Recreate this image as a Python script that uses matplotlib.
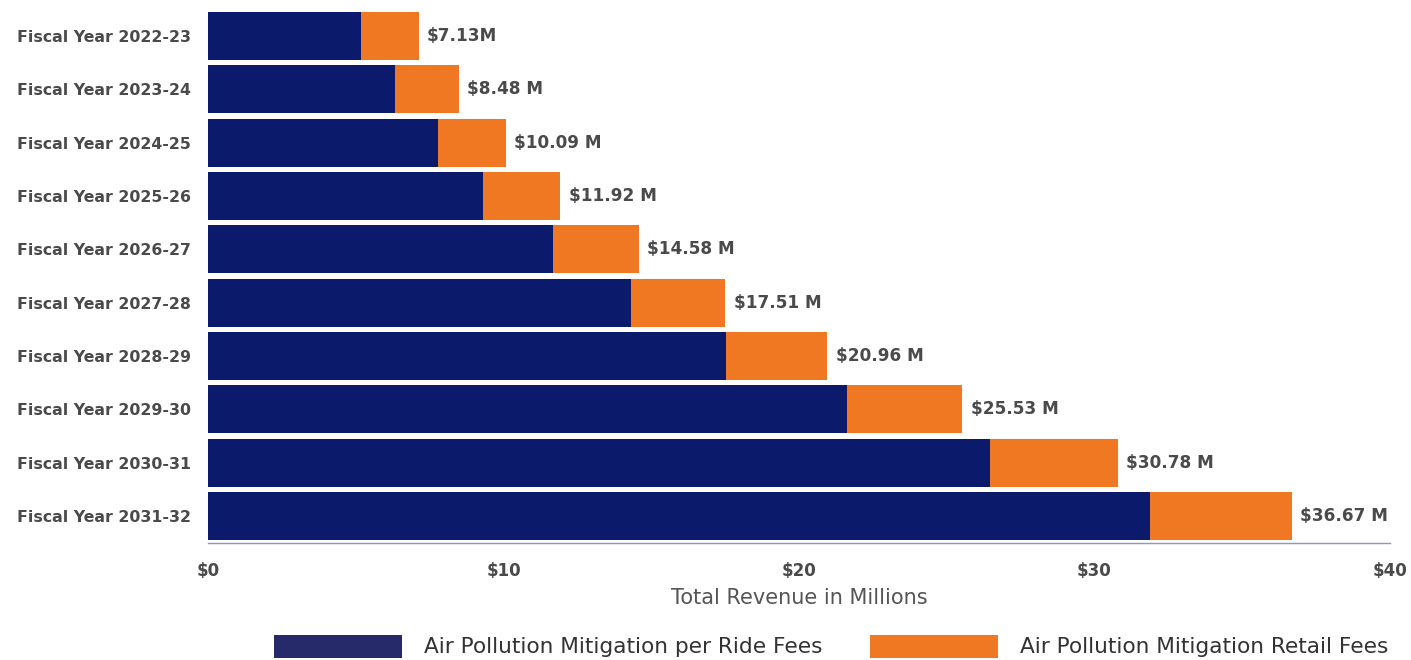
import matplotlib
matplotlib.use("Agg")
import matplotlib.pyplot as plt
from matplotlib.patches import Rectangle

categories = ["Fiscal Year 2022-23", "Fiscal Year 2023-24", "Fiscal Year 2024-25",
              "Fiscal Year 2025-26", "Fiscal Year 2026-27", "Fiscal Year 2027-28",
              "Fiscal Year 2028-29", "Fiscal Year 2029-30", "Fiscal Year 2030-31",
              "Fiscal Year 2031-32"]
per_ride_fees = [5.18, 6.33, 7.78, 9.31, 11.68, 14.31, 17.53, 21.62, 26.46, 31.88]
totals = [7.13, 8.48, 10.09, 11.92, 14.58, 17.51, 20.96, 25.53, 30.78, 36.67]
retail_fees = [t - p for t, p in zip(totals, per_ride_fees)]
value_labels = ["$7.13M", "$8.48 M", "$10.09 M", "$11.92 M", "$14.58 M",
                "$17.51 M", "$20.96 M", "$25.53 M", "$30.78 M", "$36.67 M"]
x_ticks = [0, 10, 20, 30, 40]
x_tick_labels = ["$0", "$10", "$20", "$30", "$40"]
series_names = ["Air Pollution Mitigation per Ride Fees", "Air Pollution Mitigation Retail Fees"]

NAVY = "#0c1a6c"
ORANGE = "#f07822"
LEG_NAVY = "#262a6a"
GRAY = "#4a4a4a"

fig = plt.figure(figsize=(14.11, 6.60), dpi=100)
ax = fig.add_axes([208 / 1411, 1 - 542.7 / 660, (1390 - 208) / 1411, (542.7 - 9.35) / 660])

y = list(range(len(categories)))
ax.barh(y, per_ride_fees, height=0.9, color=NAVY, linewidth=0)
ax.barh(y, retail_fees, left=per_ride_fees, height=0.9, color=ORANGE, linewidth=0)

for yi, t, lab in zip(y, totals, value_labels):
    ax.annotate(lab, xy=(t, yi), xytext=(6, 0), textcoords="offset points",
                ha="left", va="center", fontsize=12.2, fontweight="bold", color=GRAY)

ax.set_xlim(0, 40)
ax.set_ylim(len(categories) - 0.5, -0.5)
ax.set_yticks(y)
ax.set_yticklabels(categories, fontsize=11.3, fontweight="bold", color=GRAY)
ax.set_xticks(x_ticks)
ax.set_xticklabels(x_tick_labels, fontsize=12, fontweight="bold", color=GRAY)
ax.tick_params(axis="both", length=0)
ax.tick_params(axis="y", pad=12)
ax.tick_params(axis="x", pad=14)
for s in ["top", "right", "left"]:
    ax.spines[s].set_visible(False)
ax.spines["bottom"].set_color("#8797c6")
ax.spines["bottom"].set_linewidth(1.0)

ax.set_xlabel("Total Revenue in Millions", fontsize=15, color="#555555", labelpad=6)

# legend
fig.patches.append(Rectangle((274 / 1411, 1 - 658 / 660), 128 / 1411, 23 / 660,
                             transform=fig.transFigure, color=LEG_NAVY, linewidth=0))
fig.text(424 / 1411, 1 - 647 / 660, series_names[0], fontsize=15.6, color="#333333",
         ha="left", va="center")
fig.patches.append(Rectangle((870 / 1411, 1 - 658 / 660), 128 / 1411, 23 / 660,
                             transform=fig.transFigure, color=ORANGE, linewidth=0))
fig.text(1020 / 1411, 1 - 647 / 660, series_names[1], fontsize=15.6, color="#333333",
         ha="left", va="center")

fig.savefig("out.png", dpi=100, facecolor="white")
